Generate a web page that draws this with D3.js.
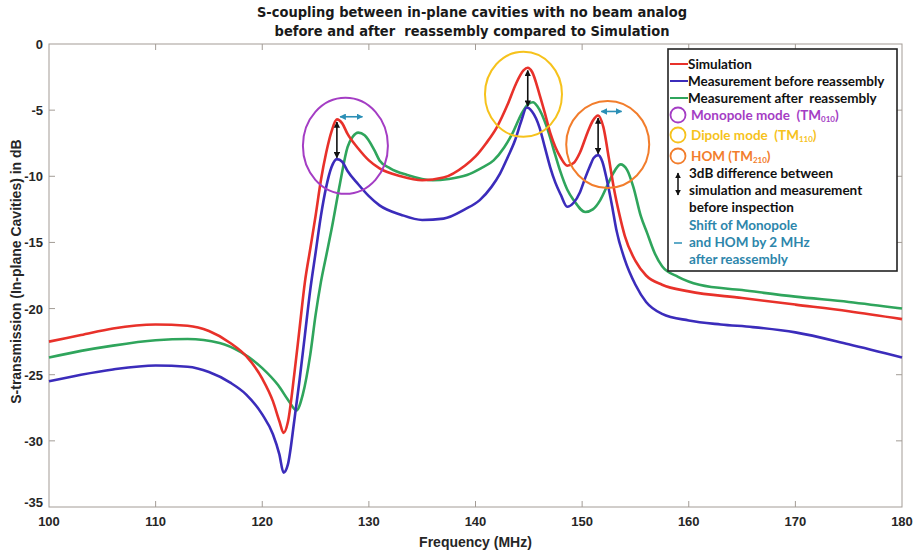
<!DOCTYPE html>
<html>
<head>
<meta charset="utf-8">
<script src="https://cdn.jsdelivr.net/npm/d3@7"></script>
<style>
  body { margin: 0; background: #fff; }
  text { font-family: "Liberation Sans", Arial, sans-serif; white-space: pre; }
</style>
</head>
<body>
<div id="chart"></div>
<script>
// values (frequency in MHz, transmission in dB)
const simFreq = [100, 103, 106, 110, 113, 115, 117, 118.5, 120, 121, 121.6, 122, 122.4, 123, 123.5, 124, 124.5, 125, 125.5, 126, 126.5, 127, 127.5, 128, 129, 130, 131, 133, 135, 137, 139, 140, 141, 142, 143, 143.8, 144.5, 144.9, 145.3, 146, 146.5, 147, 147.5, 148, 148.6, 149.2, 149.8, 150.5, 151, 151.5, 152, 152.5, 153, 153.5, 154, 155, 156, 157.5, 160, 165, 170, 175, 180];
const simDb = [-22.5, -22.0, -21.5, -21.2, -21.3, -21.7, -22.6, -23.6, -25.3, -27.0, -28.5, -29.4, -28.6, -25.0, -21.5, -18.0, -15.5, -13.0, -10.3, -8.2, -6.6, -5.7, -6.0, -6.8, -7.9, -8.8, -9.4, -10.0, -10.3, -10.1, -9.2, -8.5, -7.5, -6.3, -4.6, -3.0, -2.0, -1.8, -2.1, -3.8, -5.2, -6.7, -7.8, -8.6, -9.2, -9.0, -8.2, -6.7, -5.8, -5.4, -6.3, -8.6, -11.0, -12.9, -14.5, -16.4, -17.5, -18.2, -18.7, -19.2, -19.7, -20.2, -20.8];

const beforeFreq = [100, 103, 106, 110, 113, 115, 117, 118.5, 120, 121, 121.6, 122, 122.4, 123, 123.5, 124, 124.5, 125, 125.5, 126, 126.5, 127, 127.5, 128, 129, 130, 131, 133, 135, 137, 139, 140.4, 141.5, 142.3, 143, 143.7, 144.3, 144.8, 145.3, 146, 146.5, 147, 147.5, 148, 148.6, 149.2, 149.8, 150.3, 150.7, 151.1, 151.5, 151.9, 152.3, 152.8, 153.2, 154, 155, 156, 157.5, 160, 163, 166, 170, 175, 180];
const beforeDb = [-25.5, -25.0, -24.6, -24.3, -24.4, -24.8, -25.6, -26.5, -28.0, -29.5, -31.0, -32.4, -31.8, -28.5, -25.4, -22.0, -18.6, -15.8, -13.0, -10.8, -9.3, -8.7, -8.9, -9.6, -10.6, -11.5, -12.2, -12.9, -13.3, -13.2, -12.5, -11.8, -10.8, -9.8, -8.6, -7.3, -5.8, -4.8, -5.1, -6.3, -7.8, -9.3, -10.5, -11.4, -12.3, -12.0, -11.2, -10.1, -9.3, -8.6, -8.4, -8.9, -10.2, -12.2, -14.0, -16.3, -18.2, -19.5, -20.4, -20.9, -21.2, -21.4, -21.8, -22.7, -23.7];

const afterFreq = [100, 103, 106, 110, 113, 116, 118, 120, 121.5, 122.5, 123.2, 123.8, 124.5, 125, 125.5, 126, 126.5, 127.3, 128, 128.5, 129, 129.6, 130.5, 131, 132, 133.6, 136, 137.5, 139.2, 140.5, 141.7, 142.7, 143.5, 144.3, 145, 145.4, 145.8, 146.7, 147.3, 147.9, 148.6, 149.2, 150.3, 151, 151.7, 152.3, 152.9, 153.6, 154.2, 154.8, 155.5, 156.1, 156.8, 157.5, 159, 161, 165, 170, 175, 180];
const afterDb = [-23.7, -23.2, -22.8, -22.4, -22.3, -22.6, -23.3, -24.5, -25.8, -27.0, -27.7, -26.5, -23.5, -20.5, -18.0, -16.0, -14.0, -10.5, -7.8, -7.0, -6.7, -6.9, -8.0, -8.8, -9.4, -9.9, -10.3, -10.2, -9.9, -9.4, -8.8, -7.8, -6.7, -5.3, -4.5, -4.4, -4.7, -6.3, -7.9, -9.5, -11.0, -11.8, -12.7, -12.5, -11.8, -10.8, -9.8, -9.1, -9.5, -10.8, -13.0, -14.3, -15.8, -16.8, -17.6, -18.2, -18.6, -19.1, -19.5, -20.0];

const xTicks = [100, 110, 120, 130, 140, 150, 160, 170, 180];
const yTicks = [0, -5, -10, -15, -20, -25, -30, -35];

// mode circles: centre in data units, radii in px
const modeFreq = [127.8, 144.5, 152.4];
const modeDb = [-7.7, -3.8, -7.6];
const modeRx = [42.5, 38.5, 41.5];
const modeRy = [48, 42.5, 43.5];
const modeColors = ["#a43dc4", "#f6c21c", "#f27d2c"];

// 3 dB difference arrows (simulation peak -> measurement before)
const diffFreq = [127, 144.9, 151.5];
const diffTop = [-5.9, -2.0, -5.6];
const diffBottom = [-8.6, -4.7, -8.3];

// 2 MHz shift arrows
const shiftFrom = [127.3, 151.8];
const shiftTo = [129.4, 153.7];
const shiftDb = [-5.5, -5.1];

const width = 916, height = 552;
const margin = { top: 44, right: 14, bottom: 45, left: 49 };

const svg = d3.select("#chart").append("svg")
  .attr("width", width)
  .attr("height", height);

const x = d3.scaleLinear().domain([100, 180]).range([margin.left, width - margin.right]);
const y = d3.scaleLinear().domain([-35, 0]).range([height - margin.bottom, margin.top]);

const defs = svg.append("defs");
const mkArrow = (id, color, orient) => {
  defs.append("marker")
    .attr("id", id)
    .attr("viewBox", "0 0 10 10")
    .attr("refX", 9).attr("refY", 5)
    .attr("markerWidth", 4).attr("markerHeight", 4)
    .attr("orient", orient)
    .append("path")
    .attr("d", "M0,0 L10,5 L0,10 z")
    .attr("fill", color);
};
mkArrow("blk", "#111", "auto-start-reverse");
mkArrow("teal", "#2b8fb6", "auto-start-reverse");

const axisColor = "#a39c96";

// frame
svg.append("rect")
  .attr("x", margin.left).attr("y", margin.top)
  .attr("width", width - margin.left - margin.right)
  .attr("height", height - margin.top - margin.bottom)
  .attr("fill", "none")
  .attr("stroke", axisColor)
  .attr("stroke-width", 1);

// inward ticks, bottom + top
const tickLen = 6;
svg.selectAll(".xtick").data(xTicks.slice(1, -1)).enter().append("path")
  .attr("d", (d) => `M${x(d)},${y(-35)}v${-tickLen}M${x(d)},${y(0)}v${tickLen}`)
  .attr("stroke", axisColor);
svg.selectAll(".ytick").data(yTicks.slice(1, -1)).enter().append("path")
  .attr("d", (d) => `M${x(100)},${y(d)}h${tickLen}M${x(180)},${y(d)}h${-tickLen}`)
  .attr("stroke", axisColor);

svg.selectAll(".xlab").data(xTicks).enter().append("text")
  .attr("x", (d) => x(d))
  .attr("y", y(-35) + 19)
  .attr("text-anchor", "middle")
  .style("font-size", "13px")
  .style("font-weight", "bold")
  .attr("fill", "#262626")
  .text((d) => d);

svg.selectAll(".ylab").data(yTicks).enter().append("text")
  .attr("x", x(100) - 6)
  .attr("y", (d) => y(d) + (d === -35 ? 0 : 5))
  .attr("text-anchor", "end")
  .style("font-size", "13px")
  .style("font-weight", "bold")
  .attr("fill", "#262626")
  .text((d) => d);

svg.append("text")
  .attr("x", x(140)).attr("y", 547)
  .attr("text-anchor", "middle")
  .style("font-size", "14px").style("font-weight", "bold")
  .attr("fill", "#262626")
  .text("Frequency (MHz)");

svg.append("text")
  .attr("transform", `translate(21,${y(-17.2)}) rotate(-90)`)
  .attr("text-anchor", "middle")
  .style("font-size", "14px").style("font-weight", "bold")
  .attr("fill", "#262626")
  .text("S-transmission (In-plane Cavities) in dB");

const title = svg.append("text")
  .attr("text-anchor", "middle")
  .style("font-family", "'Liberation Sans Narrow', 'DejaVu Sans Condensed', sans-serif")
  .style("font-stretch", "condensed")
  .style("font-size", "14.5px")
  .style("font-weight", "bold")
  .attr("fill", "#1a1a1a");
title.append("tspan").attr("x", 472).attr("y", 17).text("S-coupling between in-plane cavities with no beam analog");
title.append("tspan").attr("x", 472).attr("y", 36).text("before and after  reassembly compared to Simulation");

// curves
const line = d3.line()
  .x((d) => x(d[0]))
  .y((d) => y(d[1]))
  .curve(d3.curveMonotoneX);

const series = [
  { name: "Measurement after  reassembly", f: afterFreq, v: afterDb, color: "#2fa55c" },
  { name: "Measurement before reassembly", f: beforeFreq, v: beforeDb, color: "#3b2cbb" },
  { name: "Simulation", f: simFreq, v: simDb, color: "#e8312a" },
];

const plot = svg.append("g");
plot.selectAll(".curve").data(series).enter().append("path")
  .attr("d", (s) => line(s.f.map((f, i) => [f, s.v[i]])))
  .attr("fill", "none")
  .attr("stroke", (s) => s.color)
  .attr("stroke-width", 2.6)
  .attr("stroke-linejoin", "round");

// mode circles
plot.selectAll(".mode").data(modeFreq).enter().append("ellipse")
  .attr("cx", (d) => x(d))
  .attr("cy", (d, i) => y(modeDb[i]))
  .attr("rx", (d, i) => modeRx[i])
  .attr("ry", (d, i) => modeRy[i])
  .attr("fill", "none")
  .attr("stroke", (d, i) => modeColors[i])
  .attr("stroke-width", 2);

plot.selectAll(".diff").data(diffFreq).enter().append("line")
  .attr("x1", (d) => x(d)).attr("x2", (d) => x(d))
  .attr("y1", (d, i) => y(diffTop[i]))
  .attr("y2", (d, i) => y(diffBottom[i]))
  .attr("stroke", "#111").attr("stroke-width", 1.6)
  .attr("marker-start", "url(#blk)")
  .attr("marker-end", "url(#blk)");

plot.selectAll(".shift").data(shiftFrom).enter().append("line")
  .attr("x1", (d) => x(d)).attr("x2", (d, i) => x(shiftTo[i]))
  .attr("y1", (d, i) => y(shiftDb[i])).attr("y2", (d, i) => y(shiftDb[i]))
  .attr("stroke", "#2b8fb6").attr("stroke-width", 1.6)
  .attr("marker-start", "url(#teal)")
  .attr("marker-end", "url(#teal)");

// legend
const lg = svg.append("g");
lg.append("rect")
  .attr("x", 668).attr("y", 49).attr("width", 229).attr("height", 222)
  .attr("fill", "#fff").attr("stroke", "#222").attr("stroke-width", 1.6);

const lgText = (tx, ty, str, color) => lg.append("text")
  .attr("x", tx).attr("y", ty)
  .style("font-family", "Lato, 'Liberation Sans', sans-serif")
  .style("font-size", "13.5px").style("font-weight", "bold")
  .attr("fill", color).text(str);

[...series].reverse().forEach((s, i) => {
  const ly = 64 + i * 17;
  lg.append("line").attr("x1", 670).attr("x2", 688).attr("y1", ly).attr("y2", ly)
    .attr("stroke", s.color).attr("stroke-width", 2);
  lgText(688, ly + 4.5, s.name, "#111");
});

const modeNames = [["Monopole mode  (TM", "010", ")"], ["Dipole mode  (TM", "110", ")"], ["HOM (TM", "210", ")"]];
const modeY = [115, 135, 156];
modeNames.forEach((m, i) => {
  lg.append("circle").attr("cx", 678).attr("cy", modeY[i]).attr("r", 7.5)
    .attr("fill", "none").attr("stroke", modeColors[i]).attr("stroke-width", 1.8);
  const t = lgText(691, modeY[i] + 4.5, m[0], modeColors[i]);
  t.append("tspan").style("font-size", "8px").attr("dy", 2).text(m[1]);
  t.append("tspan").attr("dy", -2).text(m[2]);
});

lg.append("line").attr("x1", 678).attr("x2", 678).attr("y1", 173).attr("y2", 195)
  .attr("stroke", "#111").attr("stroke-width", 1.5)
  .attr("marker-start", "url(#blk)").attr("marker-end", "url(#blk)");
lgText(689, 178, "3dB difference between", "#111");
lgText(689, 195, "simulation and measurement", "#111");
lgText(689, 212, "before inspection", "#111");

lg.append("line").attr("x1", 674).attr("x2", 682).attr("y1", 243).attr("y2", 243)
  .attr("stroke", "#2b8fb6").attr("stroke-width", 1.5);
lgText(689, 230, "Shift of Monopole", "#2d86ab");
lgText(689, 247, "and HOM by 2 MHz", "#2d86ab");
lgText(689, 264, "after reassembly", "#2d86ab");
</script>
</body>
</html>
